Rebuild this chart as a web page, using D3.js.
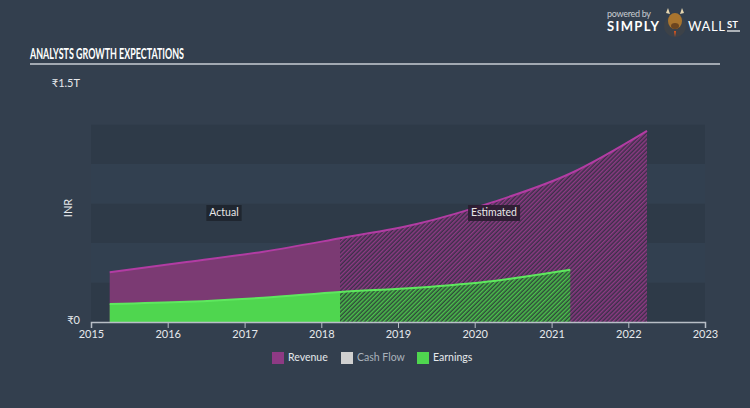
<!DOCTYPE html>
<html><head><meta charset="utf-8">
<script src="https://cdn.jsdelivr.net/npm/d3@7/dist/d3.min.js"></script>
<style>
html,body{margin:0;padding:0;background:#333f4e;}
svg{display:block;}
text{font-family:Lato,"Open Sans",sans-serif;}
</style></head>
<body>
<svg id="chart" width="750" height="408"></svg>
<script>
// ---- data ----
const periods = ["2015-03-31","2016-03-31","2017-03-31","2018-03-31","2019-03-31","2020-03-31","2021-03-31","2022-03-31"];
const revenue = [0.315, 0.38, 0.445, 0.53, 0.62, 0.76, 0.94, 1.21]; // ₹ trillions
const earningsPeriods = ["2015-03-31","2016-03-31","2017-03-31","2018-03-31","2019-03-31","2020-03-31","2021-03-31"];
const earnings = [0.114, 0.128, 0.154, 0.19, 0.217, 0.26, 0.33];
const actualEnd = "2018-03-31";
const xTickYears = [2015,2016,2017,2018,2019,2020,2021,2022,2023];
const yTickValues = [0, 1.5];
const yTickLabels = ["₹0", "₹1.5T"];
const legendItems = [["Revenue","#8e3a84"],["Cash Flow","#d0d0d0"],["Earnings","#4fd64f"]];

const parse = d3.timeParse("%Y-%m-%d");
const svg = d3.select("#chart");
const W = 750, H = 408;

svg.append("rect").attr("width",W).attr("height",H).attr("fill","#333f4e");

const x = d3.scaleTime().domain([new Date(2015,0,1), new Date(2023,0,1)]).range([91,705]);
const y = d3.scaleLinear().domain([0,1.5]).range([322,85]);

// bands
const bandStep = 0.25;
const bandVals = d3.range(0, 1.5, bandStep);
svg.append("g").selectAll("rect").data(bandVals).join("rect")
  .attr("x", x.range()[0]).attr("width", x.range()[1]-x.range()[0])
  .attr("y", d => y(d+bandStep)).attr("height", d => y(d)-y(d+bandStep))
  .attr("fill", (d,i) => i===5 ? "#333f4e" : (i%2===0 ? "#2e3a48" : "#324050"));

// patterns
const defs = svg.append("defs");
function hatch(id, bg, fg){
  const p = defs.append("pattern").attr("id",id).attr("patternUnits","userSpaceOnUse")
    .attr("width",3).attr("height",3).attr("patternTransform","rotate(-45)");
  p.append("rect").attr("width",3).attr("height",3).attr("fill",bg);
  p.append("rect").attr("width",3).attr("height",1.5).attr("fill",fg);
}
hatch("hRev","#3b3049","#8e3a84");
hatch("hEarn","#2f4a3a","#4cc24c");

const xA = x(parse(actualEnd));
defs.append("clipPath").attr("id","clipA").append("rect").attr("x",0).attr("y",0).attr("width",xA).attr("height",H);
defs.append("clipPath").attr("id","clipE").append("rect").attr("x",xA).attr("y",0).attr("width",W-xA).attr("height",H);

const revData = periods.map((p,i)=>({d:parse(p), v:revenue[i]}));
const earnData = earningsPeriods.map((p,i)=>({d:parse(p), v:earnings[i]}));

const area = d3.area().x(d=>x(d.d)).y0(y(0)).y1(d=>y(d.v)).curve(d3.curveMonotoneX);
const line = d3.line().x(d=>x(d.d)).y(d=>y(d.v)).curve(d3.curveMonotoneX);

svg.append("path").datum(revData).attr("d",area).attr("fill","#7b3a73").attr("clip-path","url(#clipA)");
svg.append("path").datum(revData).attr("d",area).attr("fill","url(#hRev)").attr("clip-path","url(#clipE)");
svg.append("path").datum(revData).attr("d",line).attr("fill","none").attr("stroke","#b23ca3").attr("stroke-width",2);
svg.append("path").datum(earnData).attr("d",area).attr("fill","#4fd64f").attr("clip-path","url(#clipA)");
svg.append("path").datum(earnData).attr("d",area).attr("fill","url(#hEarn)").attr("clip-path","url(#clipE)");
svg.append("path").datum(earnData).attr("d",line).attr("fill","none").attr("stroke","#5ee85e").attr("stroke-width",2);

// x axis
const xAxis = d3.axisBottom(x).tickValues(xTickYears.map(yr=>new Date(yr,0,1))).tickFormat(d3.timeFormat("%Y")).tickSizeOuter(0).tickSize(6);
const gx = svg.append("g").attr("transform",`translate(0,${y(0)})`).call(xAxis);
gx.select(".domain").attr("stroke","#b8bec6").attr("stroke-width",1.5);
gx.selectAll(".tick line").attr("stroke","#b8bec6").attr("y1",0).attr("y2",6);
gx.selectAll(".tick text").attr("fill","#e6e9ec").attr("font-size",11).attr("y",6).attr("dy","0.9em");

// y labels
svg.append("g").selectAll("text").data(yTickValues).join("text")
  .attr("x",80).attr("y",d=>y(d)-1).attr("text-anchor","end").attr("dominant-baseline","middle")
  .attr("fill","#e6e9ec").attr("font-size",11).text((d,i)=>yTickLabels[i]);
svg.append("text").attr("transform",`translate(69,${208}) rotate(-90)`).attr("text-anchor","middle")
  .attr("dominant-baseline","middle").attr("fill","#e6e9ec").attr("font-size",11).text("INR");

function tag(cx, cy, txt, bg){
  const g = svg.append("g");
  const t = g.append("text").attr("x",cx).attr("y",cy).attr("text-anchor","middle").attr("dominant-baseline","middle")
    .attr("fill","#e8e8e8").attr("font-size",10.5).text(txt);
  const bb = t.node().getBBox();
  g.insert("rect","text").attr("x",bb.x-3).attr("y",cy-8).attr("width",bb.width+6).attr("height",16).attr("fill",bg).attr("opacity",0.9);
}
tag(224,213,"Actual","#1e252d");
tag(494,213,"Estimated","#2a1d30");

// title
svg.append("text").attr("x",30).attr("y",59).attr("fill","#ffffff").attr("font-family","'Liberation Sans Narrow','DejaVu Sans Condensed',sans-serif")
  .attr("font-weight","bold").attr("font-size",15).attr("textLength",154).attr("lengthAdjust","spacingAndGlyphs").text("ANALYSTS GROWTH EXPECTATIONS");
svg.append("line").attr("x1",30).attr("x2",720).attr("y1",64).attr("y2",64).attr("stroke","#c9ced4").attr("stroke-width",1.5);

// legend
const lg = svg.append("g");
const legendX = [272, 341, 417];
legendItems.forEach(([name,col],i)=>{
  lg.append("rect").attr("x",legendX[i]).attr("y",352).attr("width",12).attr("height",12).attr("fill",col);
  lg.append("text").attr("x",legendX[i]+16).attr("y",358).attr("dominant-baseline","middle")
    .attr("fill", i===1 ? "#aab2bb" : "#e6e9ec").attr("font-size",10.5).text(name);
});

// logo
const logo = svg.append("g");
logo.append("text").attr("x",607).attr("y",17).attr("fill","#c8ccd1").attr("font-size",9).attr("textLength",44).text("powered by");
logo.append("text").attr("x",607).attr("y",31).attr("fill","#ffffff").attr("font-weight","bold").attr("font-size",13).attr("textLength",52).text("SIMPLY");
logo.append("circle").attr("cx",675).attr("cy",26).attr("r",11).attr("fill","#3d4248");
logo.append("ellipse").attr("cx",675).attr("cy",21).attr("rx",7).attr("ry",8).attr("fill","#a8742e");
logo.append("ellipse").attr("cx",675).attr("cy",26).attr("rx",4).attr("ry",3).attr("fill","#6b4520");
logo.append("path").attr("d","M666,13 L668,8 L670,14 Z M684,13 L682,8 L680,14 Z").attr("fill","#e6d6b0");
logo.append("path").attr("d","M674,31 L676,31 L675,37 Z").attr("fill","#e0551e");
logo.append("text").attr("x",688).attr("y",31).attr("fill","#ffffff").attr("font-size",13).attr("textLength",37).text("WALL");
logo.append("text").attr("x",727).attr("y",28).attr("fill","#ffffff").attr("font-weight","bold").attr("font-size",9.5).text("ST");
logo.append("line").attr("x1",727).attr("x2",740).attr("y1",31).attr("y2",31).attr("stroke","#fff").attr("stroke-width",1.2);
</script>
</body></html>
